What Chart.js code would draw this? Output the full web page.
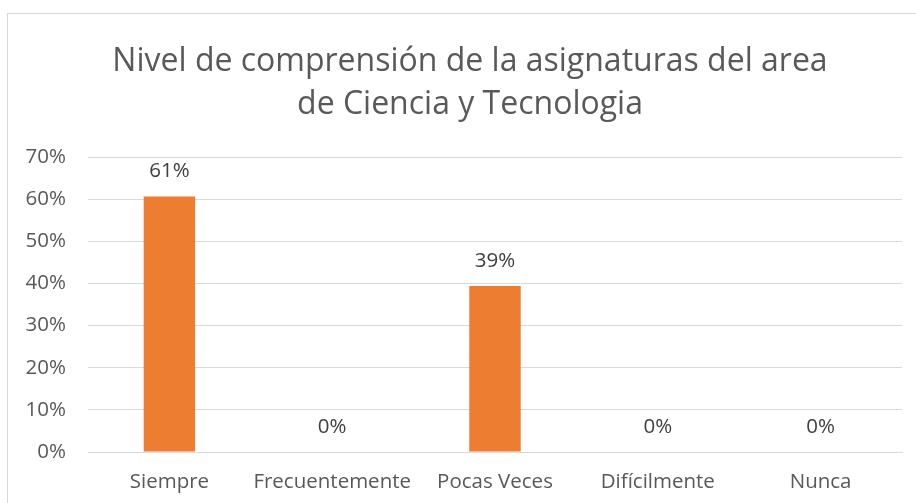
<!DOCTYPE html>
<html>
<head>
<meta charset="utf-8">
<script src="https://cdn.jsdelivr.net/npm/chart.js@4"></script>
<style>
    html, body { margin: 0; padding: 0; background: #fff; overflow: hidden; }
    #wrap { position: relative; width: 916px; height: 503px; }
    #frame {
        position: absolute; left: 7px; top: 13px; width: 930px; height: 520px;
        border: 1px solid #d9d9d9; box-sizing: border-box;
    }
    canvas { position: absolute; left: 0; top: 0; }
</style>
</head>
<body>
<div id="wrap">
    <div id="frame"></div>
    <canvas id="chart" width="916" height="503"></canvas>
</div>
<script>
    // ─── Data ───
    const categories = ['Siempre', 'Frecuentemente', 'Pocas Veces', 'Difícilmente', 'Nunca'];
    const values = [0.606, 0, 0.394, 0, 0];
    const labels = ['61%', '0%', '39%', '0%', '0%'];
    const yTicks = [0, 0.1, 0.2, 0.3, 0.4, 0.5, 0.6, 0.7];
    const titleLines = ['Nivel de comprensión de la asignaturas del area', 'de Ciencia y Tecnologia'];

    const FONT = '"Open Sans", sans-serif';
    const GREY = '#595959';

    // two-line title, drawn by hand so it can sit where the original does
    const titleDraw = {
        id: 'titleDraw',
        afterDraw(chart) {
            const ctx = chart.ctx;
            ctx.save();
            ctx.font = '32px ' + FONT;
            ctx.fillStyle = GREY;
            ctx.textAlign = 'center';
            ctx.textBaseline = 'alphabetic';
            ctx.fillText(titleLines[0], 470, 71);
            ctx.fillText(titleLines[1], 470, 114);
            ctx.restore();
        },
    };

    // value labels above each bar
    const valueLabels = {
        id: 'valueLabels',
        afterDatasetsDraw(chart) {
            const ctx = chart.ctx;
            const meta = chart.getDatasetMeta(0);
            ctx.save();
            ctx.font = '20.5px ' + FONT;
            ctx.fillStyle = '#404040';
            ctx.textAlign = 'center';
            ctx.textBaseline = 'middle';
            meta.data.forEach((bar, i) => {
                ctx.fillText(labels[i], bar.x, bar.y - 25);
            });
            ctx.restore();
        },
    };

    new Chart(document.getElementById('chart').getContext('2d'), {
        type: 'bar',
        data: {
            labels: categories,
            datasets: [{
                data: values,
                backgroundColor: '#ED7D31',
                borderWidth: 0,
                categoryPercentage: 1,
                barPercentage: 0.316,
            }],
        },
        options: {
            responsive: false,
            animation: false,
            layout: { padding: { left: 0, right: 14, top: 157, bottom: 0 } },
            plugins: {
                legend: { display: false },
                tooltip: { enabled: false },
                title: { display: false },
            },
            scales: {
                x: {
                    grid: { display: false, drawTicks: false },
                    border: { color: '#d9d9d9' },
                    ticks: {
                        color: GREY,
                        font: { family: FONT, size: 20.5 },
                        padding: 18,
                        maxRotation: 0,
                        minRotation: 0,
                        autoSkip: false,
                    },
                    afterFit: (s) => { s.height = 51; },
                },
                y: {
                    min: 0,
                    max: 0.7,
                    afterBuildTicks: (s) => { s.ticks = yTicks.map(v => ({ value: v })); },
                    grid: { color: '#d9d9d9', drawTicks: false },
                    border: { display: false },
                    ticks: {
                        color: GREY,
                        font: { family: FONT, size: 20.5 },
                        padding: 22,
                        callback: (v) => Math.round(v * 100) + '%',
                    },
                    afterFit: (s) => { s.width = 88; },
                },
            },
        },
        plugins: [valueLabels, titleDraw],
    });
</script>
</body>
</html>
